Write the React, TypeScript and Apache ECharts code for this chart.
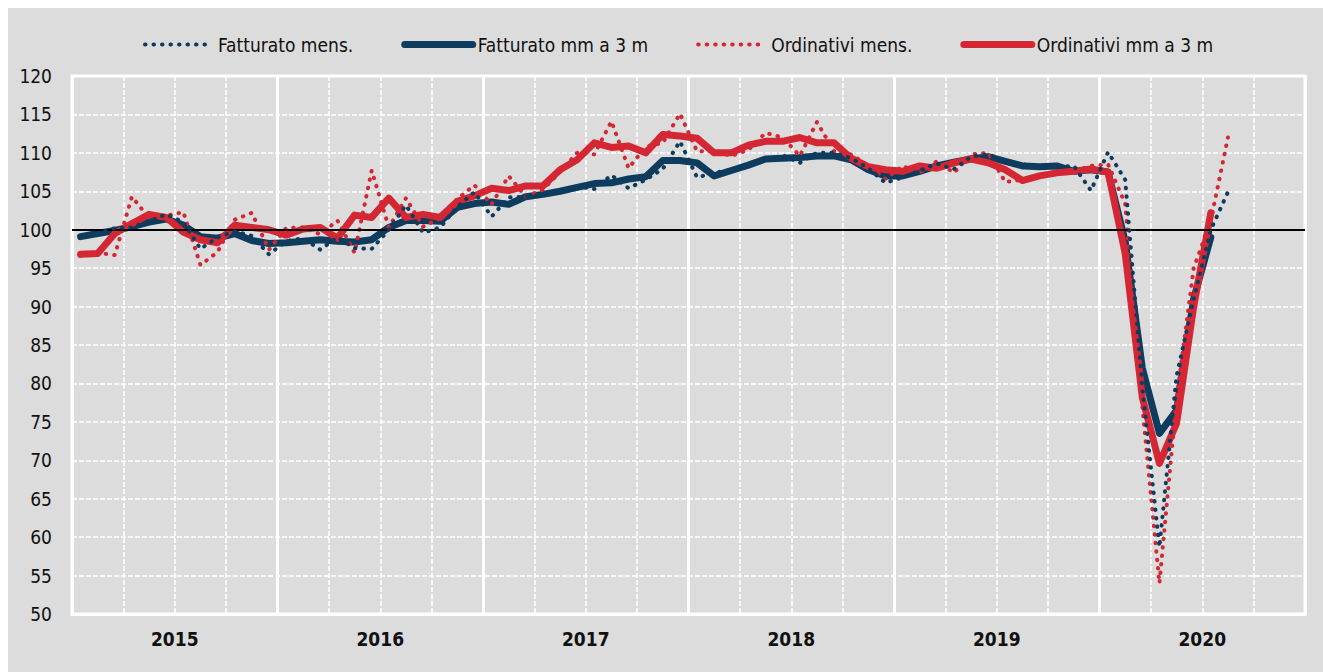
import React, { useEffect, useRef } from "react";
import * as echarts from "echarts";

const years = ["2015", "2016", "2017", "2018", "2019", "2020"];
const monthNums = ["01", "02", "03", "04", "05", "06", "07", "08", "09", "10", "11", "12"];
const months: string[] = [];
years.forEach((y) => monthNums.forEach((m) => months.push(y + "-" + m)));

const seriesNames = ["Fatturato mens.", "Fatturato mm a 3 m", "Ordinativi mens.", "Ordinativi mm a 3 m"];

const fatturatoMens = [
  99.0, 99.5, 100.2, 100.3, 101.1, 102.0, 101.0, 97.5, 99.0, 99.8, 99.2, 96.8,
  98.5, 98.9, 97.4, 99.0, 97.6, 97.5, 100.0, 103.2, 99.6, 100.3, 103.0, 104.9,
  101.7, 104.2, 104.3, 104.6, 105.0, 105.6, 105.3, 107.1, 105.4, 106.5, 107.9, 111.5,
  106.8, 107.4, 107.8, 108.3, 109.0, 109.7, 108.7, 110.0, 110.0, 109.3, 108.0, 106.1,
  106.8, 107.7, 108.6, 107.9, 109.5, 109.8, 109.0, 108.5, 108.3, 108.2, 108.3, 105.1,
  110.1, 106.5, 79.5, 58.7, 81.0, 91.0, 100.0, 104.9,
];

const fatturatoMm = [
  99.1, 99.5, 99.9, 100.4, 101.0, 101.4, 100.6, 99.1, 98.9, 99.5, 98.6, 98.2,
  98.3, 98.5, 98.7, 98.5, 98.4, 98.7, 100.3, 101.2, 101.2, 101.1, 102.9, 103.4,
  103.6, 103.3, 104.3, 104.6, 105.0, 105.5, 106.0, 106.1, 106.6, 106.9, 109.0, 109.0,
  108.7, 107.0, 107.7, 108.4, 109.2, 109.3, 109.4, 109.6, 109.6, 109.1, 107.8, 107.0,
  107.0, 107.6, 108.3, 108.8, 109.2, 109.5, 108.9, 108.3, 108.2, 108.3, 107.6, 107.8,
  107.5, 98.5, 82.0, 73.5, 76.5, 91.0, 99.0,
];

const ordinativiMens = [
  96.6, 97.0, 96.7, 104.3, 101.5, 101.8, 102.3, 95.4, 97.1, 101.3, 102.2, 97.4,
  100.2, 100.3, 99.4, 101.2, 97.0, 107.7, 100.3, 104.1, 100.4, 101.5, 104.0, 105.8,
  103.3, 107.0, 104.3, 105.2, 107.5, 110.0, 109.8, 114.1, 108.0, 110.8, 111.3, 115.1,
  110.2, 110.2, 109.6, 110.4, 112.6, 112.0, 109.6, 114.0, 110.2, 109.8, 108.3, 106.6,
  108.3, 107.4, 108.9, 107.4, 109.8, 110.0, 106.2, 106.5, 107.2, 107.4, 107.6, 108.3,
  108.5, 103.4, 77.0, 54.0, 78.0, 95.0, 101.2, 112.0,
];

const ordinativiMm = [
  96.8, 96.9, 99.5, 100.8, 102.0, 101.6, 99.7, 98.7, 98.3, 100.6, 100.3, 100.0,
  99.3, 100.1, 100.3, 98.9, 101.9, 101.6, 104.1, 101.6, 102.0, 101.6, 103.7, 104.4,
  105.4, 105.1, 105.7, 105.7, 107.8, 109.1, 111.3, 110.7, 110.9, 110.0, 112.4, 112.2,
  111.9, 110.0, 110.0, 111.0, 111.5, 111.5, 112.0, 111.3, 111.3, 109.3, 108.2, 107.8,
  107.6, 108.3, 108.0, 108.7, 109.2, 108.7, 107.8, 106.4, 107.0, 107.4, 107.6, 107.9,
  107.5, 96.9, 78.2, 69.6, 74.8, 90.0, 102.2,
];

const BLUE = "#0e3c5e";
const RED = "#d52733";
const BG = "#dcdcdc";
const FONT = "'DejaVu Sans Condensed', 'Liberation Sans Narrow', 'Arial Narrow', sans-serif";
const NOSYM = { color: "rgba(0,0,0,0)", borderColor: "rgba(0,0,0,0)", borderWidth: 0, opacity: 0 };

export default function App() {
  const ref = useRef<HTMLDivElement>(null);
  useEffect(() => {
    if (!ref.current) return;
    const chart = echarts.init(ref.current, undefined, { renderer: "svg" });
    const dotted = (color: string) => ({ color, width: 4, type: [0.5, 8], cap: "round" });
    const thick = (color: string) => ({ color, width: 7, type: "solid", cap: "round", join: "round" });
    chart.setOption({
      animation: false,
      backgroundColor: BG,
      textStyle: { fontFamily: FONT },
      legend: {
        left: 130,
        top: 22,
        itemWidth: 68,
        itemHeight: 8,
        itemGap: 48,
        itemStyle: NOSYM,
        textStyle: { fontFamily: FONT, fontSize: 19, color: "#111" },
        data: [
          { name: seriesNames[0], lineStyle: dotted(BLUE), itemStyle: NOSYM },
          { name: seriesNames[1], lineStyle: thick(BLUE), itemStyle: NOSYM },
          { name: seriesNames[2], lineStyle: dotted(RED), itemStyle: NOSYM },
          { name: seriesNames[3], lineStyle: thick(RED), itemStyle: NOSYM },
        ],
      },
      grid: {
        left: 64,
        right: 18,
        top: 68,
        bottom: 58,
        show: true,
        backgroundColor: BG,
        borderColor: "#ffffff",
        borderWidth: 3,
      },
      xAxis: [
        {
          type: "category",
          data: months,
          boundaryGap: true,
          axisLine: { show: false },
          axisTick: { show: false },
          axisLabel: { show: false },
          splitLine: {
            show: true,
            interval: (i: number) => i % 3 === 0 && i % 12 !== 0,
            lineStyle: { color: "#ffffff", width: 1.5, type: [5, 2] },
          },
        },
        {
          type: "category",
          data: years,
          position: "bottom",
          boundaryGap: true,
          axisLine: { show: true, lineStyle: { color: "#ffffff", width: 3 } },
          axisTick: { show: false },
          axisLabel: { show: true, margin: 15, fontSize: 19, fontWeight: "bold", color: "#111", fontFamily: FONT },
          splitLine: { show: true, interval: 0, lineStyle: { color: "#ffffff", width: 3 } },
        },
      ],
      yAxis: {
        type: "value",
        min: 50,
        max: 120,
        interval: 5,
        axisLine: { show: false },
        axisTick: { show: false },
        axisLabel: { margin: 20, fontSize: 19, color: "#111", fontFamily: FONT },
        splitLine: { show: true, lineStyle: { color: "#ffffff", width: 1.5, type: [5, 2] } },
      },
      series: [
        {
          name: seriesNames[1],
          type: "line",
          xAxisIndex: 0,
          data: fatturatoMm,
          symbol: "none",
          lineStyle: thick(BLUE),
          itemStyle: { color: BLUE },
          markLine: {
            silent: true,
            symbol: "none",
            label: { show: false },
            lineStyle: { color: "#000000", width: 2, type: "solid" },
            data: [{ yAxis: 100 }],
          },
          z: 2,
        },
        {
          name: seriesNames[3],
          type: "line",
          xAxisIndex: 0,
          data: ordinativiMm,
          symbol: "none",
          lineStyle: thick(RED),
          itemStyle: { color: RED },
          z: 3,
        },
        {
          name: seriesNames[2],
          type: "line",
          xAxisIndex: 0,
          data: ordinativiMens,
          symbol: "none",
          lineStyle: dotted(RED),
          itemStyle: { color: RED },
          z: 4,
        },
        {
          name: seriesNames[0],
          type: "line",
          xAxisIndex: 0,
          data: fatturatoMens,
          symbol: "none",
          lineStyle: dotted(BLUE),
          itemStyle: { color: BLUE },
          z: 5,
        },
      ],
    });
    return () => chart.dispose();
  }, []);
  return (
    <div style={{ position: "fixed", left: 8, top: 8, right: 0, bottom: 0, background: BG }}>
      <div ref={ref} style={{ width: 1315, height: 664 }} />
    </div>
  );
}
